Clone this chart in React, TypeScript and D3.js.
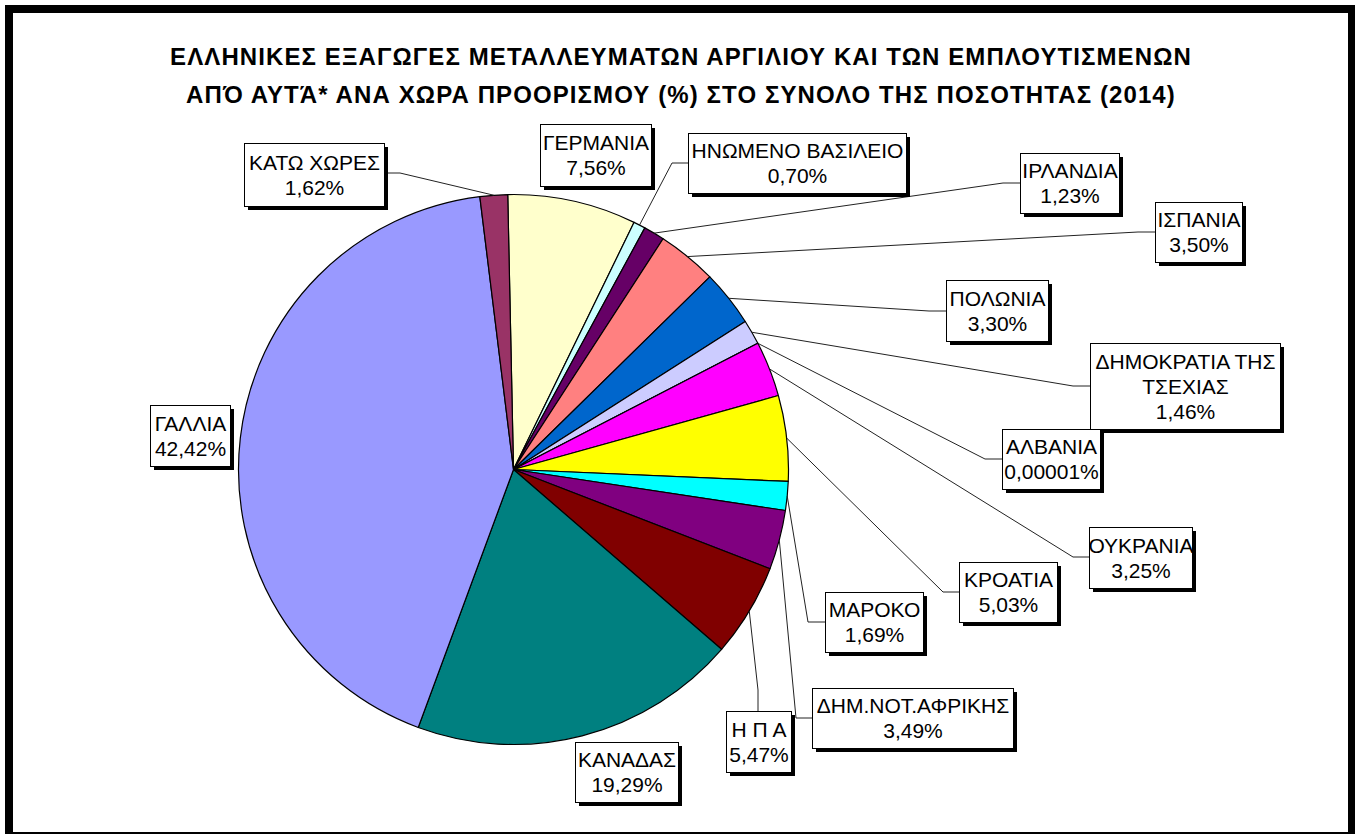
import React from "react";
import * as d3 from "d3";

const countries = [
  "ΓΕΡΜΑΝΙΑ",
  "ΗΝΩΜΕΝΟ ΒΑΣΙΛΕΙΟ",
  "ΙΡΛΑΝΔΙΑ",
  "ΙΣΠΑΝΙΑ",
  "ΠΟΛΩΝΙΑ",
  "ΔΗΜΟΚΡΑΤΙΑ ΤΗΣ ΤΣΕΧΙΑΣ",
  "ΑΛΒΑΝΙΑ",
  "ΟΥΚΡΑΝΙΑ",
  "ΚΡΟΑΤΙΑ",
  "ΜΑΡΟΚΟ",
  "ΔΗΜ.ΝΟΤ.ΑΦΡΙΚΗΣ",
  "Η Π Α",
  "ΚΑΝΑΔΑΣ",
  "ΓΑΛΛΙΑ",
  "ΚΑΤΩ ΧΩΡΕΣ",
];
const shares = [7.56, 0.7, 1.23, 3.5, 3.3, 1.46, 0.00001, 3.25, 5.03, 1.69, 3.49, 5.47, 19.29, 42.42, 1.62];
const shareLabels = [
  "7,56%", "0,70%", "1,23%", "3,50%", "3,30%", "1,46%", "0,00001%", "3,25%",
  "5,03%", "1,69%", "3,49%", "5,47%", "19,29%", "42,42%", "1,62%",
];
const colors = [
  "#FFFFCC", "#CCFFFF", "#660066", "#FF8080", "#0066CC", "#CCCCFF", "#000080", "#FF00FF",
  "#FFFF00", "#00FFFF", "#800080", "#800000", "#008080", "#9999FF", "#993366",
];
const titleLines = [
  "ΕΛΛΗΝΙΚΕΣ ΕΞΑΓΩΓΕΣ ΜΕΤΑΛΛΕΥΜΑΤΩΝ ΑΡΓΙΛΙΟΥ ΚΑΙ ΤΩΝ ΕΜΠΛΟΥΤΙΣΜΕΝΩΝ",
  "ΑΠΌ ΑΥΤΆ* ΑΝΑ ΧΩΡΑ ΠΡΟΟΡΙΣΜΟΥ (%) ΣΤΟ ΣΥΝΟΛΟ ΤΗΣ ΠΟΣΟΤΗΤΑΣ (2014)",
];

// label box layout (x, y, w, h), elbow point and attachment point on box
type Lay = { x: number; y: number; w: number; h: number; elbow?: [number, number]; attach?: [number, number]; lines?: string[] };
const layout: Lay[] = [
  { x: 540, y: 124, w: 111, h: 62 },
  { x: 688, y: 133, w: 218, h: 60, elbow: [672, 163], attach: [688, 163] },
  { x: 1020, y: 153, w: 99, h: 60, elbow: [1003, 183], attach: [1020, 183] },
  { x: 1155, y: 202, w: 87, h: 60, elbow: [1138, 232], attach: [1155, 232] },
  { x: 946, y: 280, w: 102, h: 61, elbow: [929, 311], attach: [946, 311] },
  { x: 1090, y: 343, w: 190, h: 86, elbow: [1073, 386], attach: [1090, 386], lines: ["ΔΗΜΟΚΡΑΤΙΑ ΤΗΣ", "ΤΣΕΧΙΑΣ"] },
  { x: 1002, y: 429, w: 98, h: 60, elbow: [985, 459], attach: [1002, 459] },
  { x: 1089, y: 527, w: 103, h: 61, elbow: [1073, 557], attach: [1089, 557] },
  { x: 959, y: 562, w: 98, h: 60, elbow: [943, 592], attach: [959, 592] },
  { x: 825, y: 592, w: 98, h: 60, elbow: [808, 622], attach: [825, 622] },
  { x: 812, y: 688, w: 201, h: 60, elbow: [796, 718], attach: [812, 718] },
  { x: 726, y: 711, w: 65, h: 61, elbow: [758, 690], attach: [758, 711] },
  { x: 575, y: 742, w: 103, h: 60 },
  { x: 150, y: 405, w: 80, h: 61 },
  { x: 244, y: 143, w: 140, h: 63, elbow: [400, 173], attach: [384, 173] },
];

const W = 1360;
const H = 834;
const cx = 513.5;
const cy = 469.5;
const R = 275;
const offset = -0.021;
const FONT = "'Liberation Sans', Arial, Helvetica, sans-serif";

export default function App() {
  const pie = d3
    .pie<number>()
    .sort(null)
    .value((d) => d)
    .startAngle(offset)
    .endAngle(offset + 2 * Math.PI);
  const arcs = pie(shares);
  const arcGen = d3.arc<d3.PieArcDatum<number>>().innerRadius(0).outerRadius(R);

  const fs = 21;
  const lineH = 25;

  return (
    <svg
      width={W}
      height={H}
      style={{ position: "absolute", left: 0, top: 0, background: "#fff" }}
      fontFamily={FONT}
    >
      {/* frame */}
      <rect x={5} y={5} width={1350} height={845} fill="#000" />
      <rect x={13} y={13} width={1335} height={819} fill="#fff" />
      <line x1={13} x2={1348} y1={832.5} y2={832.5} stroke="#000" strokeWidth={1} />

      {/* title */}
      {titleLines.map((t, i) => (
        <text
          key={i}
          x={681}
          y={65 + i * 38}
          textAnchor="middle"
          fontSize={24}
          letterSpacing={1.1}
          fontWeight="bold"
          fill="#000"
        >
          {t}
        </text>
      ))}

      {/* slices */}
      <g transform={`translate(${cx},${cy})`}>
        {arcs.map((a, i) => (
          <path key={i} d={arcGen(a) || ""} fill={colors[i]} stroke="#000" strokeWidth={1.2} strokeLinejoin="round" />
        ))}
      </g>

      {/* leader lines */}
      {arcs.map((a, i) => {
        const L = layout[i];
        if (!L.elbow || !L.attach) return null;
        const mid = (a.startAngle + a.endAngle) / 2;
        const px = cx + R * Math.sin(mid);
        const py = cy - R * Math.cos(mid);
        const pts = [L.attach, L.elbow, [px, py]];
        return (
          <polyline
            key={"l" + i}
            points={pts.map((p) => p.join(",")).join(" ")}
            fill="none"
            stroke="#222"
            strokeWidth={1}
          />
        );
      })}

      {/* labels */}
      {arcs.map((a, i) => {
        const L = layout[i];
        const lines = [...(L.lines || [countries[i]]), shareLabels[i]];
        const n = lines.length;
        return (
          <g key={"b" + i}>
            <rect x={L.x + 4} y={L.y + 4} width={L.w} height={L.h} fill="#000" />
            <rect x={L.x + 0.5} y={L.y + 0.5} width={L.w} height={L.h} fill="#fff" stroke="#000" strokeWidth={1} />
            {lines.map((t, j) => (
              <text
                key={j}
                x={L.x + L.w / 2 + 0.5}
                y={L.y + L.h / 2 + (j - (n - 1) / 2) * lineH + 7.5}
                textAnchor="middle"
                fontSize={fs}
                fill="#000"
              >
                {t}
              </text>
            ))}
          </g>
        );
      })}
    </svg>
  );
}
